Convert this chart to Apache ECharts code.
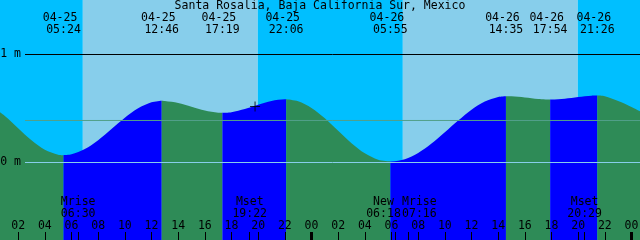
<!DOCTYPE html>
<html><head><meta charset="utf-8">
<script src="https://cdn.jsdelivr.net/npm/echarts@6/dist/echarts.min.js"></script>
<style>html,body{margin:0;padding:0;background:#fff}#c{width:640px;height:240px}</style>
</head><body><div id="c"></div>
<script>
// ---- data ----
const chartTitle = 'Santa Rosalia, Baja California Sur, Mexico';
// hours counted from 04-25 00:00
const curveHours = [0,1,2,3,4,5,6,7,8,9,10,11,12,13,14,15,16,17,18,19,20,21,22,23,24,25,26,27,28,29,30,31,32,33,34,35,36,37,38,39,40,41,42,43,44,45,46,47,48,49,50];
const curveLevels = [0.52,0.431,0.318,0.206,0.118,0.072,0.076,0.124,0.207,0.310,0.415,0.502,0.557,0.569,0.551,0.517,0.481,0.461,0.466,0.495,0.535,0.570,0.586,0.567,0.505,0.409,0.294,0.179,0.085,0.025,0.010,0.030,0.088,0.175,0.280,0.389,0.489,0.565,0.607,0.613,0.602,0.588,0.583,0.591,0.607,0.619,0.614,0.570,0.515,0.450,0.380];
const tideDates = ['04-25','04-25','04-25','04-25','04-26','04-26','04-26','04-26'];
const tideTimes = ['05:24','12:46','17:19','22:06','05:55','14:35','17:54','21:26'];
const tideLevels = [0.068,0.572,0.460,0.586,0.010,0.614,0.583,0.620];
const sunriseDates = ['04-25','04-26'];
const sunriseTimes = ['06:51','06:51'];
const sunsetDates = ['04-25','04-26'];
const sunsetTimes = ['19:58','19:58'];
const moonNames = ['Mrise','Mset','New','Mrise','Mset'];
const moonDates = ['04-25','04-25','04-26','04-26','04-26'];
const moonTimes = ['06:30','19:22','06:18','07:16','20:29'];
const nowDate = '04-25', nowTime = '19:46', nowLevel = 0.519;
const refLevels = [1, 0.389, 0];           // 1 m line, mean sea level, 0 m
const refLabels = [0, 1];                  // labelled levels (m)
const midnightHours = [0, 24, 48];

// ---- helpers ----
const toH = (d, t) => (parseInt(d.slice(3), 10) - 25) * 24 + parseInt(t.slice(0, 2), 10) + parseInt(t.slice(3), 10) / 60;
const tideHours = tideDates.map((d, i) => toH(d, tideTimes[i]));
const moonHours = moonDates.map((d, i) => toH(d, moonTimes[i]));
const riseH = sunriseDates.map((d, i) => toH(d, sunriseTimes[i]));
const setH = sunsetDates.map((d, i) => toH(d, sunsetTimes[i]));
const nowH = toH(nowDate, nowTime);

const X0 = curveHours[0], X1 = curveHours[curveHours.length - 1];
const pts = curveHours.map((h, i) => [h, curveLevels[i]])
  .concat(tideHours.map((h, i) => [h, tideLevels[i]]))
  .sort((a, b) => a[0] - b[0]);
const bounds = [X0].concat(tideHours, [X1]);

const FONT = 'DejaVu Sans Mono';
const FS = 11.5;
const C_NIGHT = '#00BFFF', C_DAY = '#87CEEB', C_RISE = '#0000FF', C_FALL = '#2E8B57';
const refColors = ['#000000', '#52A08A', '#87CEEB'];

// y mapping: 1 m -> row 54.5, 0 m -> row 162.5, 108 px per metre
const Y_MAX = 162.5 / 108, Y_MIN = (162.5 - 240) / 108;

const segSeries = [];
for (let k = 0; k < bounds.length - 1; k++) {
  const data = pts.filter(p => p[0] >= bounds[k] - 1e-9 && p[0] <= bounds[k + 1] + 1e-9);
  const rising = data[data.length - 1][1] > data[0][1];
  segSeries.push({
    type: 'line', xAxisIndex: 0, yAxisIndex: 0, data, smooth: 0.3,
    symbol: 'none', lineStyle: { width: 0 }, silent: true, z: 2,
    areaStyle: { color: rising ? C_RISE : C_FALL, opacity: 1, origin: 'start' }
  });
}

// day/night areas
const skyAreas = [];
const ev = riseH.map(h => [h, 'rise']).concat(setH.map(h => [h, 'set'])).sort((a, b) => a[0] - b[0]);
let prev = X0, isDay = ev[0][1] === 'set';
ev.forEach(e => {
  skyAreas.push([{ xAxis: prev, itemStyle: { color: isDay ? C_DAY : C_NIGHT } }, { xAxis: e[0] }]);
  prev = e[0]; isDay = e[1] === 'rise';
});
skyAreas.push([{ xAxis: prev, itemStyle: { color: isDay ? C_DAY : C_NIGHT } }, { xAxis: X1 }]);

const pad2 = n => (n < 10 ? '0' : '') + n;
const nearest = (arr, v) => { let bi = 0; arr.forEach((a, i) => { if (Math.abs(a - v) < Math.abs(arr[bi] - v)) bi = i; }); return bi; };

const moonShift = [0, 0, -24, 22, 0];

const txt = { fontFamily: FONT, fontSize: FS, color: '#000' };
const PXH = 40 / 3; // px per hour
const AZ = 20;

const chart = echarts.init(document.getElementById('c'), null, { renderer: 'canvas' });
chart.setOption({
  animation: false,
  backgroundColor: '#fff',
  title: { text: chartTitle, left: 'center', top: 0, padding: 0, z: AZ,
    textStyle: { fontFamily: FONT, fontSize: FS, fontWeight: 'normal', color: '#000', lineHeight: 12 } },
  grid: [
    { left: -8.5, top: 0, width: (X1 - X0) * PXH, height: 240, containLabel: false, outerBoundsMode: 'none' },
    { left: 25, right: 0, top: 0, height: 240, containLabel: false, outerBoundsMode: 'none' }
  ],
  xAxis: [
    { gridIndex: 0, type: 'value', min: X0, max: X1, interval: 2, position: 'bottom', z: AZ,
      axisLine: { show: false, onZero: false }, splitLine: { show: false },
      axisTick: { show: true, inside: true, length: 8, lineStyle: { color: '#000', width: 1 } },
      axisLabel: { show: true, inside: true, margin: 8, ...txt, lineHeight: 12,
        showMinLabel: true, showMaxLabel: true,
        formatter: v => pad2(Math.round(v) % 24) } },
    { gridIndex: 0, type: 'value', min: X0, max: X1, position: 'bottom', z: AZ,
      axisLine: { show: false, onZero: false }, splitLine: { show: false },
      axisTick: { show: true, inside: true, length: 8, customValues: midnightHours, lineStyle: { color: '#000', width: 3 } },
      axisLabel: { show: false } },
    { gridIndex: 0, type: 'value', min: X0, max: X1, position: 'bottom', z: AZ,
      axisLine: { show: false, onZero: false }, splitLine: { show: false },
      axisTick: { show: true, inside: true, length: 8, customValues: moonHours, lineStyle: { color: '#000', width: 1 } },
      axisLabel: { show: true, inside: true, margin: 20, customValues: moonHours, ...txt, lineHeight: 12,
        formatter: v => { const i = nearest(moonHours, v); const s = moonShift[i];
          const st = s < 0 ? 'l' : (s > 0 ? 'r' : 'c');
          return '{' + st + '|' + moonNames[i] + '}\n{' + st + '|' + moonTimes[i] + '}'; },
        rich: {
          c: { fontFamily: FONT, fontSize: FS, color: '#000', lineHeight: 12 },
          l: { fontFamily: FONT, fontSize: FS, color: '#000', lineHeight: 12, padding: [0, 24, 0, 0] },
          r: { fontFamily: FONT, fontSize: FS, color: '#000', lineHeight: 12, padding: [0, 0, 0, 22] }
        } } },
    { gridIndex: 0, type: 'value', min: X0, max: X1, position: 'top', z: AZ,
      axisLine: { show: false, onZero: false }, splitLine: { show: false }, axisTick: { show: false },
      axisLabel: { show: true, inside: true, margin: 12, customValues: tideHours, ...txt, lineHeight: 12,
        formatter: v => { const i = nearest(tideHours, v); return tideDates[i] + ' \n' + tideTimes[i]; } } },
    { gridIndex: 1, type: 'value', min: 0, max: 1, show: false }
  ],
  yAxis: [
    { gridIndex: 0, type: 'value', min: Y_MIN, max: Y_MAX, show: false },
    { gridIndex: 1, type: 'value', min: Y_MIN, max: Y_MAX, position: 'left', z: AZ,
      axisLine: { show: false }, axisTick: { show: false }, splitLine: { show: false },
      axisLabel: { show: true, margin: 4, customValues: refLabels, ...txt, formatter: v => Math.round(v) + ' m' } }
  ],
  series: [
    { type: 'line', xAxisIndex: 0, yAxisIndex: 0, data: pts, symbol: 'none', lineStyle: { width: 0 }, silent: true, z: 1,
      markArea: { silent: true, data: skyAreas } }
  ].concat(segSeries, refLevels.map((lv, i) => ({
    type: 'line', xAxisIndex: 4, yAxisIndex: 1, data: [[0, lv], [1, lv]], symbol: 'none', silent: true, z: 3,
    lineStyle: { color: refColors[i], width: 1 }
  })), [{
    type: 'scatter', xAxisIndex: 0, yAxisIndex: 0, data: [[nowH, nowLevel]], silent: true, z: 5,
    symbol: 'path://M0,4.5H10V5.5H0Z M4.5,0H5.5V10H4.5Z', symbolSize: 10, itemStyle: { color: '#000' }
  }])
});
</script>
</body></html>
